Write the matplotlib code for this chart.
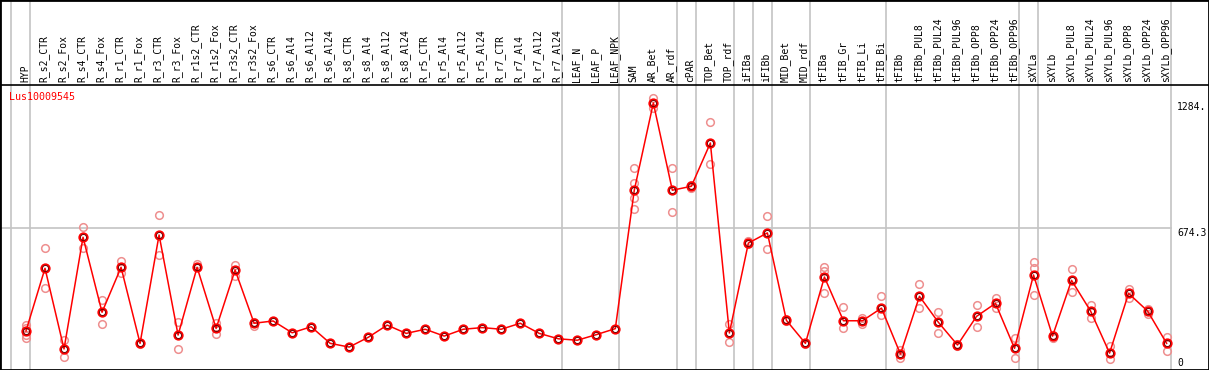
import matplotlib
matplotlib.use('Agg')
import matplotlib.pyplot as plt

# 样品名称
samples = ['HYP', 'R_s2_CTR', 'R_s2_Fox', 'R_s4_CTR', 'R_s4_Fox', 'R_r1_CTR', 'R_r1_Fox',
           'R_r3_CTR', 'R_r3_Fox', 'R_r1s2_CTR', 'R_r1s2_Fox', 'R_r3s2_CTR', 'R_r3s2_Fox',
           'R_s6_CTR', 'R_s6_Al4', 'R_s6_Al12', 'R_s6_Al24', 'R_s8_CTR', 'R_s8_Al4',
           'R_s8_Al12', 'R_s8_Al24', 'R_r5_CTR', 'R_r5_Al4', 'R_r5_Al12', 'R_r5_Al24',
           'R_r7_CTR', 'R_r7_Al4', 'R_r7_Al12', 'R_r7_Al24', 'LEAF_N', 'LEAF_P', 'LEAF_NPK',
           'SAM', 'AR_Bet', 'AR_rdf', 'cPAR', 'TOP_Bet', 'TOP_rdf', 'iFIBa', 'iFIBb',
           'MID_Bet', 'MID_rdf', 'tFIBa', 'tFIB_Gr', 'tFIB_Li', 'tFIB_Bi', 'tFIBb',
           'tFIBb_PUL8', 'tFIBb_PUL24', 'tFIBb_PUL96', 'tFIBb_OPP8', 'tFIBb_OPP24',
           'tFIBb_OPP96', 'sXYLa', 'sXYLb', 'sXYLb_PUL8', 'sXYLb_PUL24', 'sXYLb_PUL96',
           'sXYLb_OPP8', 'sXYLb_OPP24', 'sXYLb_OPP96']

# 平均值
means = [179, 481, 92, 631, 269, 486, 119, 642, 159, 486, 191, 473, 216,
         227, 170, 199, 119, 101, 148, 207, 167, 187, 154, 187, 195, 187, 216, 167, 141, 134,
         161, 190, 859, 1279, 858, 877, 1086, 169, 603, 652, 230, 119, 439, 228, 228, 289, 67,
         346, 220, 111, 249, 312, 95, 449, 154, 423, 275, 72, 360, 275, 119]

# 重复样
replicates = [[206, 195, 159, 143], [578, 385], [135, 52], [679, 578], [328, 211], [516, 457],
              [116, 122], [737, 544], [224, 90], [500, 489], [219, 164], [497, 444], [203, 222],
              [], [], [], [], [], [], [], [], [], [], [], [], [], [], [], [], [], [], [],
              [964, 893, 820, 767], [1303, 1255], [964, 751], [869, 884], [1186, 983],
              [212, 124], [611, 598], [734, 573], [238, 225], [116, 122], [487, 470, 362],
              [293, 193], [241, 212], [349, 256], [87, 47], [404, 288], [269, 167], [108, 114],
              [304, 199], [338, 291], [143, 47], [510, 481, 352], [143, 160], [476, 365],
              [304, 243], [108, 42], [381, 336], [285, 259], [151, 83]]

gene = 'Lus10009545'
tick_values = [1284, 674.3, 0]
tick_labels = ['1284.', '674.3', '0']
group_ends = [-1, 0, 28, 31, 34, 35, 37, 38, 39, 41, 45, 52, 53, 60]

# 像素 -> 坐标
W, H = 1209, 370
x0_px, dx_px = 26.0, 19.01
y0_px, dy_px = 368.0, 0.2072
header_px = 85

fig = plt.figure(figsize=(W / 100, H / 100), dpi=100)
ax = fig.add_axes([0, 0, 1, 1])
ax.set_xlim(-x0_px / dx_px, (W - x0_px) / dx_px)
ax.set_ylim((y0_px - H) / dy_px, y0_px / dy_px)
ax.set_xticks([])
ax.set_yticks([])
for spine in ax.spines.values():
    spine.set_color('black')
    spine.set_linewidth(2)

grey = '#c4c4c4'
header_y = (y0_px - header_px) / dy_px
for g in group_ends:
    ax.axvline(g + 0.22, color=grey, linewidth=1.2, zorder=1)
ax.plot([ax.get_xlim()[0], group_ends[-1] + 0.22], [tick_values[1], tick_values[1]],
        color=grey, linewidth=1.2, zorder=1)
ax.axhline(header_y, color='black', linewidth=1.2, zorder=2)

# 重复样点
for i, reps in enumerate(replicates):
    ax.plot([i] * len(reps), reps, linestyle='none', marker='o', markersize=5.5,
            markerfacecolor='none', markeredgecolor='#ee8f8f', markeredgewidth=1.1, zorder=3)

# 平均值曲线
xs = list(range(len(samples)))
ax.plot(xs, means, color='red', linewidth=1.1, marker='o', markersize=6,
        markerfacecolor='none', markeredgecolor='red', markeredgewidth=1.4, zorder=4)
# 内圈深色
ax.plot(xs, means, linestyle='none', marker='o', markersize=4.4,
        markerfacecolor='none', markeredgecolor='#700000', markeredgewidth=0.7, zorder=5)

# 样品标签
for i, name in enumerate(samples):
    ax.annotate(name, (i - 0.05, header_y), xytext=(0, 2), textcoords='offset points',
                rotation=90, ha='center', va='bottom', fontsize=7,
                family='DejaVu Sans Mono', color='black')

ax.annotate(gene, (ax.get_xlim()[0], header_y), xytext=(6.5, -5), textcoords='offset points',
            ha='left', va='top', fontsize=7.2, family='DejaVu Sans Mono', color='red')

# 右侧刻度
label_x = (1177 - x0_px) / dx_px
for v, s in zip(tick_values, tick_labels):
    ax.annotate(s, (label_x, v), xytext=(0, 0), textcoords='offset points',
                ha='left', va='bottom' if v == 0 else 'top', fontsize=7,
                family='DejaVu Sans Mono', color='black')

fig.savefig('out.png', dpi=100)
